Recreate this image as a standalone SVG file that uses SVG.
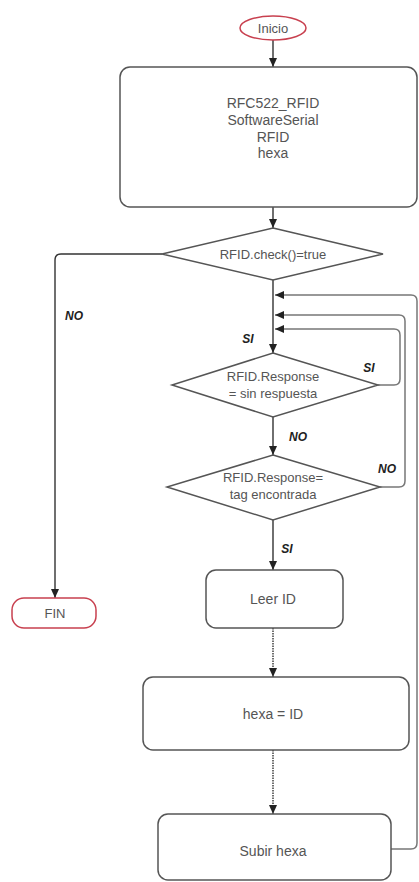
<svg xmlns="http://www.w3.org/2000/svg" width="419" height="882" viewBox="0 0 419 882">
<style>
.box{fill:#fff;stroke:#555;stroke-width:1.5}
.term{fill:#fff;stroke:#c8404f;stroke-width:1.5}
.t{font-family:"Liberation Sans",Arial,sans-serif;font-size:14px;fill:#555;text-anchor:middle}
.td{font-family:"Liberation Sans",Arial,sans-serif;font-size:13px;fill:#555;text-anchor:middle}
.lbl{font-family:"Liberation Sans",Arial,sans-serif;font-size:12px;font-weight:bold;font-style:italic;fill:#222;text-anchor:middle}
.c{fill:none;stroke:#333;stroke-width:1.4}
.loop{fill:none;stroke:#777;stroke-width:1.5}
.dot{stroke-dasharray:1.5 1}
</style>
<defs>
<marker id="ah" markerWidth="9" markerHeight="8" refX="9" refY="4" orient="auto" markerUnits="userSpaceOnUse">
<path d="M0,0 L9,4 L0,8 z" fill="#222"/>
</marker>
</defs>
<rect width="419" height="882" fill="#fff"/>
<g id="connectors">
<path class="c" d="M273,40 V67" marker-end="url(#ah)"/>
<path class="c" d="M273,207 V228" marker-end="url(#ah)"/>
<path class="c" d="M162,254 H61 Q55,254 55,260 V598" marker-end="url(#ah)"/>
<path class="c" d="M273,280 V353" marker-end="url(#ah)"/>
<path class="loop" d="M378,385 H394 Q400,385 400,379 V335 Q400,329 394,329 H275" marker-end="url(#ah)"/>
<path class="loop" d="M380,487 H399 Q405,487 405,481 V321 Q405,315 399,315 H275" marker-end="url(#ah)"/>
<path class="loop" d="M391,849 H411 Q417,849 417,843 V301 Q417,295 411,295 H275" marker-end="url(#ah)"/>
<path class="c" d="M273,417 V455" marker-end="url(#ah)"/>
<path class="c" d="M273,520 V570" marker-end="url(#ah)"/>
<path class="c dot" d="M273,628 V677" marker-end="url(#ah)"/>
<path class="c dot" d="M273,750 V814" marker-end="url(#ah)"/>
<text class="lbl" x="74" y="320">NO</text>
<text class="lbl" x="248" y="343">SI</text>
<text class="lbl" x="369" y="372">SI</text>
<text class="lbl" x="298" y="441">NO</text>
<text class="lbl" x="387" y="473">NO</text>
<text class="lbl" x="287" y="553">SI</text>
</g>
<g id="inicio">
<ellipse class="term" cx="273" cy="28" rx="33" ry="12"/>
<text class="t" x="273" y="33" style="font-size:13px">Inicio</text>
</g>
<g id="declaraciones">
<rect class="box" x="120" y="67" width="297" height="140" rx="10"/>
<text class="t" x="273" y="108">RFC522_RFID</text>
<text class="t" x="273" y="125">SoftwareSerial</text>
<text class="t" x="273" y="142">RFID</text>
<text class="t" x="273" y="158">hexa</text>
</g>
<g id="check">
<polygon class="box" points="273,228 383,254 273,280 162,254"/>
<text class="td" x="273" y="259">RFID.check()=true</text>
</g>
<g id="sinrespuesta">
<polygon class="box" points="273,353 378,385 273,417 172,385"/>
<text class="td" x="273" y="381">RFID.Response</text>
<text class="td" x="273" y="398">= sin respuesta</text>
</g>
<g id="tagencontrada">
<polygon class="box" points="273,455 380,487 273,520 167,487"/>
<text class="td" x="273" y="482">RFID.Response=</text>
<text class="td" x="273" y="499">tag encontrada</text>
</g>
<g id="fin">
<rect class="term" x="12" y="598" width="84" height="30" rx="12"/>
<text class="t" x="55" y="618" style="font-size:13px">FIN</text>
</g>
<g id="leerid">
<rect class="box" x="206" y="570" width="137" height="58" rx="10"/>
<text class="t" x="273" y="604">Leer ID</text>
</g>
<g id="hexaid">
<rect class="box" x="143" y="677" width="266" height="73" rx="10"/>
<text class="t" x="273" y="719">hexa = ID</text>
</g>
<g id="subir">
<rect class="box" x="158" y="814" width="233" height="66" rx="10"/>
<text class="t" x="273" y="856">Subir hexa</text>
</g>
</svg>
